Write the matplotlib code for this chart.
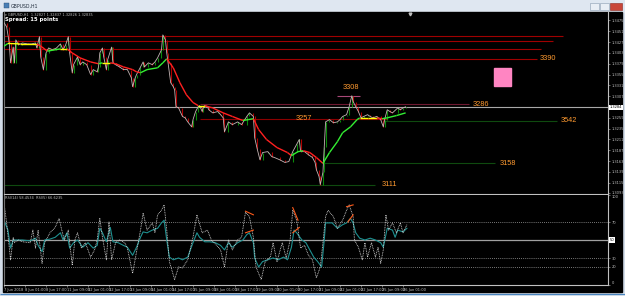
import numpy as np
import matplotlib
matplotlib.use("Agg")
import matplotlib.pyplot as plt
from matplotlib.collections import LineCollection
from matplotlib.patches import Rectangle

W, H = 625, 296

# GBPUSD H1 - closes (bar index, price)
bars = [0, 2, 4, 5, 7, 8, 9, 11, 14, 18,
        21, 24, 25, 27, 28, 30, 32, 34, 37, 40,
        43, 45, 47, 49, 50, 52, 53, 56, 58, 60,
        63, 66, 68, 71, 72, 73, 75, 76, 78, 79,
        82, 83, 85, 88, 91, 94, 97, 98, 100, 101,
        104, 106, 107, 110, 113, 115, 117, 120, 121, 123,
        124, 125, 127, 129, 130, 131, 133, 136, 138, 140,
        143, 144, 146, 148, 149, 151, 152, 153, 155, 156,
        159, 163, 167, 168, 171, 174, 178, 181, 185, 187,
        190, 191, 193, 195, 197, 201, 204, 206, 210, 214,
        217, 220, 223, 225, 226, 229, 232, 235, 237, 238,
        240, 241, 243, 244, 245, 248, 251, 254, 256, 258,
        261, 263, 265, 266, 268, 270, 272, 274, 277, 279,
        281, 284, 287, 289, 290, 292, 294, 296, 300, 302,
        304, 306]
close = [1.3470, 1.3461, 1.3425, 1.3381, 1.3416, 1.3381, 1.3432, 1.3421, 1.3425, 1.3423,
         1.3423, 1.3425, 1.3414, 1.3439, 1.3394, 1.3366, 1.3403, 1.3414, 1.3410, 1.3414,
         1.3423, 1.3410, 1.3421, 1.3439, 1.3403, 1.3359, 1.3377, 1.3394, 1.3377, 1.3383,
         1.3377, 1.3355, 1.3366, 1.3361, 1.3372, 1.3403, 1.3414, 1.3394, 1.3366, 1.3388,
         1.3416, 1.3381, 1.3377, 1.3372, 1.3366, 1.3366, 1.3348, 1.3328, 1.3348, 1.3355,
         1.3372, 1.3383, 1.3372, 1.3381, 1.3377, 1.3383, 1.3392, 1.3410, 1.3443, 1.3432,
         1.3403, 1.3381, 1.3337, 1.3328, 1.3321, 1.3284, 1.3281, 1.3262, 1.3259, 1.3250,
         1.3239, 1.3255, 1.3273, 1.3284, 1.3286, 1.3273, 1.3284, 1.3286, 1.3284, 1.3277,
         1.3270, 1.3273, 1.3259, 1.3228, 1.3250, 1.3244, 1.3250, 1.3244, 1.3262, 1.3270,
         1.3262, 1.3215, 1.3189, 1.3166, 1.3182, 1.3184, 1.3173, 1.3171, 1.3166, 1.3160,
         1.3162, 1.3184, 1.3200, 1.3211, 1.3184, 1.3184, 1.3177, 1.3171, 1.3160, 1.3144,
         1.3129, 1.3111, 1.3138, 1.3195, 1.3250, 1.3255, 1.3248, 1.3250, 1.3255, 1.3262,
         1.3266, 1.3284, 1.3308, 1.3295, 1.3284, 1.3273, 1.3259, 1.3262, 1.3266, 1.3262,
         1.3259, 1.3262, 1.3255, 1.3239, 1.3255, 1.3277, 1.3273, 1.3270, 1.3281, 1.3277,
         1.3281, 1.32835]
last_price = 1.32835

# moving average (colour by slope)
ma_bars = [0, 3, 12, 25, 29, 33, 43, 48, 52, 58,
           66, 72, 75, 81, 85, 91, 98, 101, 104, 109,
           117, 121, 124, 129, 134, 139, 144, 148, 153, 159,
           167, 174, 182, 186, 190, 194, 200, 208, 216, 219,
           224, 228, 233, 238, 243, 248, 254, 258, 264, 269,
           271, 277, 284, 288, 292, 299, 306]
ma_vals = [1.3418, 1.3424, 1.3423, 1.3423, 1.3416, 1.3407, 1.3412, 1.3412, 1.3403, 1.3392,
           1.3383, 1.3379, 1.3381, 1.3381, 1.3379, 1.3372, 1.3366, 1.3361, 1.3359, 1.3366,
           1.3370, 1.3381, 1.3390, 1.3370, 1.3337, 1.3310, 1.3293, 1.3286, 1.3286, 1.3281,
           1.3270, 1.3262, 1.3253, 1.3255, 1.3257, 1.3233, 1.3211, 1.3193, 1.3182, 1.3175,
           1.3184, 1.3186, 1.3182, 1.3171, 1.3158, 1.3182, 1.3206, 1.3226, 1.3239, 1.3255,
           1.3259, 1.3259, 1.3259, 1.3257, 1.3259, 1.3264, 1.3270]

# horizontal levels drawn on the chart
level_prices = [1.3441, 1.3430, 1.3412, 1.3390, 1.3308, 1.3289, 1.3257, 1.3253, 1.3158, 1.3111]
level_from = [0, 0, 0, 124, 254, 149, 149, 289, 243, 0]
level_to = [426, 418, 409, 406, 271, 354, 292, 421, 374, 283]
level_labels = ["", "", "", "3390", "3308", "3286", "3257", "3542", "3158", "3111"]
label_bars = [0, 0, 0, 408, 264, 357, 222, 424, 378, 288]
level_colors = ["#a00000", "#a00000", "#a00000", "#a00000", "#a84878",
                "#6e1830", "#8b0000", "#0f4a0f", "#0f4a0f", "#0f4a0f"]

price_ticks = [1.3475, 1.3451, 1.3427, 1.3403, 1.3379, 1.3355, 1.3331, 1.3307,
               1.3259, 1.3235, 1.3211, 1.3187, 1.3163, 1.3139, 1.3115, 1.3093]

# RSI(14) solid teal and RSI(5) dotted white
rsi_bars = [0, 3, 5, 7, 11, 14, 20, 24, 26, 29,
            31, 35, 39, 43, 45, 48, 50, 53, 56, 60,
            64, 68, 71, 73, 75, 78, 81, 83, 87, 91,
            94, 98, 101, 104, 106, 109, 113, 117, 120, 122,
            124, 126, 129, 133, 136, 140, 144, 147, 149, 153,
            157, 161, 165, 168, 171, 174, 178, 182, 185, 187,
            190, 191, 194, 197, 201, 205, 209, 213, 216, 219,
            221, 223, 227, 230, 233, 236, 239, 242, 244, 245,
            250, 254, 258, 261, 264, 266, 268, 271, 275, 279,
            283, 287, 289, 292, 296, 298, 300, 304, 307]
rsi_slow = [72, 61, 41, 50, 50, 50, 49, 52, 44, 37,
            50, 51, 53, 58, 50, 58, 41, 47, 50, 42,
            47, 41, 44, 63, 58, 48, 64, 48, 47, 44,
            42, 33, 42, 53, 59, 58, 61, 63, 69, 72,
            50, 31, 28, 30, 28, 31, 47, 58, 53, 48,
            48, 47, 44, 39, 47, 42, 47, 50, 56, 58,
            47, 30, 20, 26, 28, 30, 28, 31, 28, 42,
            61, 58, 50, 47, 39, 31, 26, 20, 50, 69,
            69, 63, 67, 69, 74, 69, 58, 52, 50, 52,
            50, 47, 42, 63, 61, 53, 61, 59, 63]
fast_bars = [0, 2, 5, 7, 8, 11, 14, 20, 22, 24,
             26, 29, 31, 35, 39, 42, 44, 46, 49, 52,
             54, 56, 59, 62, 66, 69, 71, 73, 75, 78,
             80, 82, 85, 88, 92, 94, 98, 101, 104, 106,
             109, 113, 115, 117, 120, 122, 124, 126, 130, 133,
             136, 140, 144, 147, 151, 155, 158, 162, 165, 168,
             171, 174, 178, 181, 184, 187, 190, 192, 196, 199,
             203, 205, 208, 212, 215, 218, 220, 223, 226, 229,
             232, 235, 238, 241, 243, 245, 247, 251, 254, 258,
             261, 263, 266, 267, 270, 273, 275, 277, 280, 283,
             285, 287, 289, 291, 293, 296, 299, 302, 304, 307]
rsi_fast = [91, 69, 28, 53, 47, 50, 48, 47, 61, 41,
            61, 24, 47, 58, 64, 74, 61, 50, 61, 22,
            50, 58, 41, 47, 31, 39, 50, 74, 53, 28,
            70, 28, 47, 50, 47, 41, 13, 37, 61, 80,
            61, 69, 58, 78, 83, 89, 61, 26, 6, 20,
            19, 28, 53, 78, 58, 61, 50, 44, 39, 20,
            50, 39, 50, 53, 81, 76, 53, 20, 6, 26,
            31, 47, 26, 47, 30, 50, 83, 72, 41, 44,
            33, 28, 8, 20, 47, 76, 83, 76, 63, 72,
            83, 89, 76, 50, 42, 28, 47, 31, 47, 31,
            42, 24, 39, 78, 61, 69, 58, 69, 58, 67]
div_segments = [(184, 82, 190, 78), (184, 58, 190, 61), (220, 86, 224, 72),
                (220, 58, 225, 64), (261, 87, 266, 89), (262, 70, 266, 78)]
rsi_levels = [70, 30, 20]
rsi_ticks = [100, 70, 30, 20, 0]

time_bars = list(range(0, 305, 16))
time_labels = ["7 Jun 2018", "8 Jun 01:00", "8 Jun 17:00", "11 Jun 09:00", "12 Jun 01:00",
               "12 Jun 17:00", "13 Jun 09:00", "14 Jun 01:00", "14 Jun 17:00", "15 Jun 09:00",
               "18 Jun 01:00", "18 Jun 17:00", "19 Jun 09:00", "20 Jun 01:00", "20 Jun 17:00",
               "21 Jun 09:00", "22 Jun 01:00", "22 Jun 17:00", "25 Jun 09:00", "26 Jun 01:00"]

XMAX = 460.2
GREY = "#c0c0c0"


def box(x0, y0, x1, y1):
    # pixel box -> figure fraction
    return [x0 / W, 1 - y1 / H, (x1 - x0) / W, (y1 - y0) / H]


fig = plt.figure(figsize=(W / 100, H / 100), dpi=100)
fig.patch.set_facecolor("#d3dde9")

# window frame
bg = fig.add_axes([0, 0, 1, 1])
bg.set_xlim(0, W)
bg.set_ylim(H, 0)
bg.axis("off")
bg.add_patch(Rectangle((0, 0), W, 11.5, color="#dfe7f1"))
bg.add_patch(Rectangle((3, 11.5), 619, 280, color="black"))
bg.add_patch(Rectangle((3.5, 3), 5, 5, fc="#4a7fb5", ec="#2a4f75", lw=0.3))
bg.text(11, 5.8, "GBPUSD,H1", fontsize=3.3, color="#1e2a3a", va="center")
bg.add_patch(Rectangle((590, 3), 9, 6.5, fc="#e9eef5", ec="#8a9bb0", lw=0.4))
bg.add_patch(Rectangle((600, 3), 9, 6.5, fc="#e9eef5", ec="#8a9bb0", lw=0.4))
bg.add_patch(Rectangle((610, 3), 12, 6.5, fc="#c9473a", ec="#8a2a20", lw=0.4))
bg.hlines(293.5, 0, W, color="#4a86c0", lw=0.8)

# main price window
ax = fig.add_axes(box(4, 12, 608, 194))
ax.set_facecolor("black")
ax.set_xlim(0, XMAX)
ax.set_ylim(1.3090, 1.34938)
ax.spines["top"].set_visible(False)
ax.spines["left"].set_color("#707070")
ax.spines["right"].set_color(GREY)
ax.spines["bottom"].set_color(GREY)
for s in ["left", "right", "bottom"]:
    ax.spines[s].set_linewidth(0.8)
ax.set_xticks([])
ax.yaxis.tick_right()
ax.set_yticks(price_ticks)
ax.set_yticklabels([f"{p:.4f}" for p in price_ticks])
ax.tick_params(axis="y", length=1.5, width=0.4, pad=1, labelsize=2.6, colors=GREY)

b = np.array(bars)
c = np.array(close)
up = c[1:] >= c[:-1]
ax.vlines(b[1:][up], c[:-1][up], c[1:][up], colors="#0a8a0a", lw=0.8, zorder=2)
ax.vlines(b[1:][~up], c[:-1][~up], c[1:][~up], colors="#b00000", lw=0.8, zorder=2)
ax.plot(bars, close, color="#c4b4b4", lw=0.6, zorder=3)

# MA coloured by direction
mb = np.array(ma_bars)
mv = np.array(ma_vals)
pts = np.column_stack([mb, mv]).reshape(-1, 1, 2)
segs = np.concatenate([pts[:-1], pts[1:]], axis=1)
slope = np.diff(mv) / np.diff(mb)
seg_cols = ["#33ee33" if s > 3e-5 else "#ff2020" if s < -3e-5 else "#ffff00" for s in slope]
ax.add_collection(LineCollection(segs, colors=seg_cols, linewidths=1.0, zorder=4))

# levels and their labels
for p, x0, x1, lab, lb, col in zip(level_prices, level_from, level_to,
                                    level_labels, label_bars, level_colors):
    ax.hlines(p, x0, x1, color=col, lw=0.8, zorder=1)
    if lab == "3308":
        ax.text(lb, p + 0.0018, lab, color="#ff9a30", fontsize=5.3,
                family="Liberation Sans", ha="center", va="center")
    elif lab:
        ax.text(lb, p, lab, color="#ff9a30", fontsize=5.3,
                family="Liberation Sans", ha="left", va="center")

ax.axhline(last_price, color="#a8a8a8", lw=0.8, zorder=1)
ax.add_patch(Rectangle((373, 1.3330), 13, 0.0040, color="#ff85c2", zorder=5))

# RSI window
rax = fig.add_axes(box(4, 195, 608, 285))
rax.set_facecolor("black")
rax.set_xlim(0, XMAX)
rax.set_ylim(0, 100)
rax.spines["top"].set_visible(False)
rax.spines["left"].set_color("#707070")
rax.spines["right"].set_color(GREY)
rax.spines["bottom"].set_color(GREY)
for s in ["left", "right", "bottom"]:
    rax.spines[s].set_linewidth(0.8)
rax.yaxis.tick_right()
rax.set_yticks(rsi_ticks)
rax.set_yticklabels([str(t) for t in rsi_ticks])
rax.tick_params(axis="y", length=1.5, width=0.4, pad=1, labelsize=2.6, colors=GREY)
rax.get_yticklabels()[0].set_va("top")
rax.get_yticklabels()[-1].set_va("bottom")
rax.set_xticks(time_bars)
rax.set_xticklabels(time_labels, ha="left")
rax.tick_params(axis="x", length=1.5, width=0.4, pad=0.8, labelsize=2.6, colors=GREY)

for lv in rsi_levels:
    rax.axhline(lv, color="#a0a0a0", lw=0.6, ls=(0, (1, 1.5)))
rax.axhline(50, color="#a0a0a0", lw=0.9)
rax.plot(rsi_bars, rsi_slow, color="#1f9090", lw=0.8)
rax.plot(fast_bars, rsi_fast, color="#e0e0e0", lw=0.6, ls=(0, (1, 1)))
for x0, y0, x1, y1 in div_segments:
    rax.plot([x0, x1], [y0, y1], color="#ff5a1a", lw=0.8)

# text overlay
ov = fig.add_axes([0, 0, 1, 1])
ov.set_xlim(0, W)
ov.set_ylim(H, 0)
ov.axis("off")
ov.patch.set_alpha(0)
ov.text(5, 14.8, "\u25be GBPUSD,H1  1.32827 1.32837 1.32826 1.32835",
        fontsize=2.5, color=GREY, va="center")
ov.text(5, 19.5, "Spread: 15 points", fontsize=3.8, color="white",
        fontweight="bold", va="center")
ov.text(5, 198, "RSI(14) 58.4534  RSI(5) 66.6235", fontsize=2.5, color=GREY, va="center")
ov.text(610, 107.5, "1.3284", fontsize=2.6, color="black", va="center",
        bbox=dict(fc="white", ec="none", pad=0.4))
ov.text(610, 240, "50", fontsize=2.6, color="black", va="center",
        bbox=dict(fc="white", ec="none", pad=0.4))
ov.plot([410], [13.5], marker="v", ms=2, color=GREY)

fig.savefig("out.png", dpi=100, facecolor=fig.get_facecolor())
